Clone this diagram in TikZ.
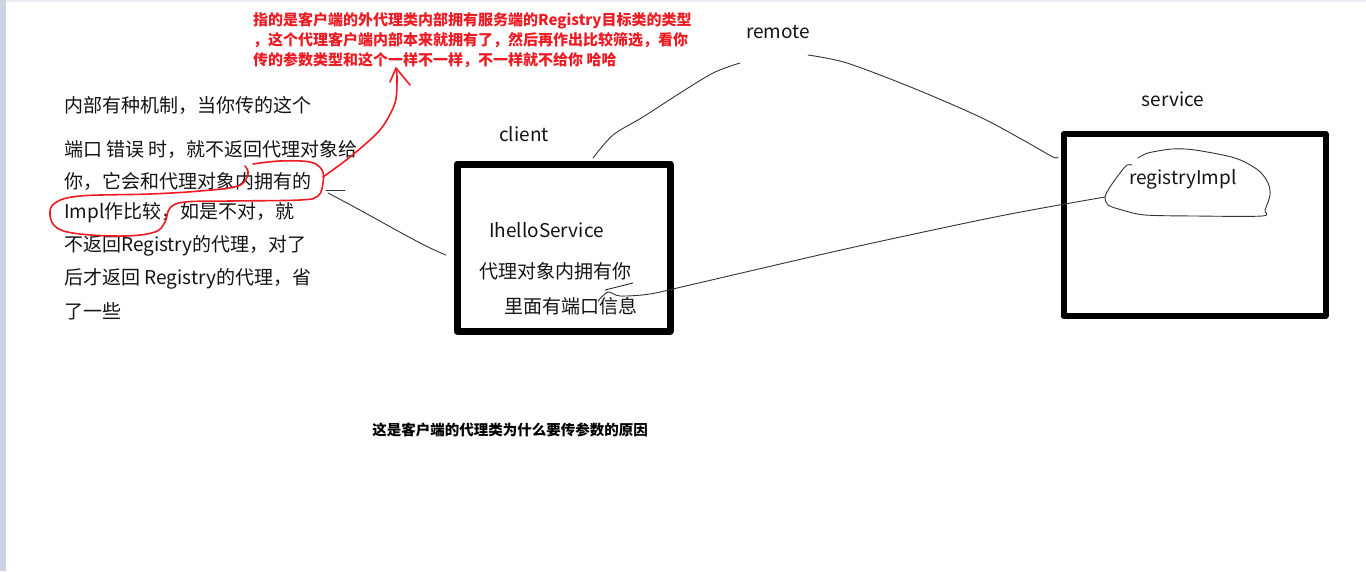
\documentclass[tikz,border=0pt]{standalone}
\usepackage{fontspec}
\setmainfont{Noto Sans CJK SC}
\definecolor{inkred}{RGB}{237,28,36}
\definecolor{sidebar}{RGB}{205,213,228}
\definecolor{topbar}{RGB}{232,236,242}
\tikzset{
  note/.style={font=\fontsize{19}{22}\selectfont, inner sep=0pt, text=black!92},
  rednote/.style={font=\fontsize{15}{20}\selectfont\bfseries, inner sep=0pt, text=inkred, align=left},
  hand/.style={black!80, line width=0.9pt},
  redhand/.style={inkred, line width=1.6pt},
  box/.style={draw, line width=7pt, inner sep=0pt},
}
\begin{document}
\begin{tikzpicture}[x=1pt, y=-1pt, line cap=round, line join=round]
    \useasboundingbox (0,0) rectangle (1366,571);
    \fill[white] (0,0) rectangle (1366,571);
    \fill[sidebar] (0,0) rectangle (6,571);
    \fill[topbar] (6,0) rectangle (1366,2);
    % boxes
    \node[box, minimum width=213pt, minimum height=167pt] (clientbox) at (563.5,247.5) {};
    \node[box, line width=6pt, minimum width=262pt, minimum height=182pt] (servicebox) at (1194.5,225) {};
    % labels
    \node[note] (remote) at (778,32) {remote};
    \node[note] (client) at (524,134) {client};
    \node[note] (service) at (1173,99) {service};
    \node[note, anchor=west] (iface) at (489,230) {IhelloService};
    \node[note, anchor=west] (proxy1) at (479,271) {代理对象内拥有你};
    \node[note, anchor=west] (proxy2) at (504,306) {里面有端口信息};
    \node[note] (impl) at (1183,179) {registryImpl};
    \foreach \y/\txt [count=\i] in {105/内部有种机制，当你传的这个, 149/端口 错误 时，就不返回代理对象给,
        181/你，它会和代理对象内拥有的, 213/Impl作比较，如是不对，就, 246/不返回Registry的代理，对了,
        279/后才返回 Registry的代理，省, 311/了一些}
      \node[note, anchor=west] (left\i) at (64,\y) {\txt};
    \node[rednote, anchor=north west] (remark) at (253,12)
      {指的是客户端的外代理类内部拥有服务端的Registry目标类的类型\\
       ，这个代理客户端内部本来就拥有了，然后再作出比较筛选，看你\\
       传的参数类型和这个一样不一样，不一样就不给你 哈哈};
    \node[font=\fontsize{14.5}{17}\selectfont\bfseries, inner sep=0pt] (caption) at (510,430)
      {这是客户端的代理类为什么要传参数的原因};
    % hand drawn links
    \coordinate (clienttop) at (593,158);
    \coordinate (remoteL) at (740,63);
    \coordinate (remoteR) at (808,55);
    \coordinate (servicetop) at (1058,157);
    \draw[hand] plot[smooth] coordinates {(clienttop) (613,135) (643,117) (677,95) (713,73) (remoteL)};
    \draw[hand] plot[smooth] coordinates {(remoteR) (847,63) (913,88) (980,117) (1023,140) (1053,157) (servicetop)};
    \draw[hand] plot[smooth, tension=0.5] coordinates {(1138,158) (1148,153) (1172,149) (1195,150) (1235,158)
      (1258,170) (1268,183) (1270,195) (1265,210) (1262,216) (1195,216) (1145,215) (1122,210) (1108,205)
      (1105,197) (1110,187) (1120,173) (1127,165) (1132,165)};
    \coordinate (blobL) at (1105,197);
    \coordinate (portend) at (598,301);
    \draw[hand] plot[smooth] coordinates {(blobL) (1000,216) (850,248) (690,285) (650,294) (620,296) (608,292) (portend)};
    \draw[hand] (605,290) -- (633,283);
    \coordinate (leftend) at (328,193);
    \draw[hand] (leftend) .. controls (380,220) and (420,245) .. (446,255);
    \draw[hand] (326,190) -- (345,190);
    % red marks
    \draw[redhand] plot[smooth, tension=0.6] coordinates {(245,166) (248,174) (238,186) (200,191) (150,194)
      (80,196) (55,203) (50,215) (57,228) (80,234) (125,236) (155,232) (165,222) (170,208) (185,202)
      (230,201) (300,200) (318,196) (323,183) (322,170) (310,162) (280,161) (253,164)};
    \coordinate (tip) at (396,68);
    \draw[redhand] plot[smooth] coordinates {(323,177) (350,157) (380,130) (395,103) (397,78) (tip)};
    \draw[redhand] (390,82) -- (tip) -- (410,85);
\end{tikzpicture}
\end{document}
